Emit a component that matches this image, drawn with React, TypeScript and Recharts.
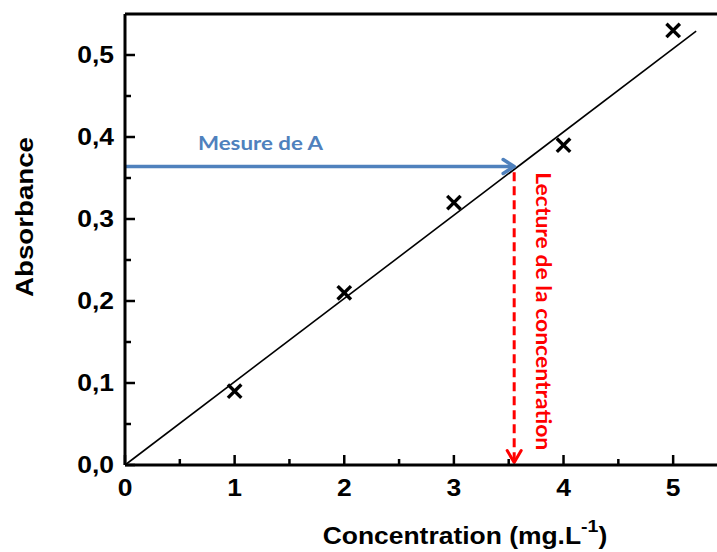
import React from "react";
import {
  ComposedChart,
  Scatter,
  XAxis,
  YAxis,
  ReferenceLine,
} from "recharts";

// mesures étalon
const concentrations = [1, 2, 3, 4, 5];
const absorbances = [0.09, 0.21, 0.32, 0.39, 0.53];

// droite d'étalonnage (début / fin)
const fitX = [0, 5.21];
const fitY = [0, 0.529];

// lecture graphique
const measuredA = 0.364;
const readConc = 3.55;

const xTicks = [0, 0.5, 1, 1.5, 2, 2.5, 3, 3.5, 4, 4.5, 5];
const yTicks = [0, 0.05, 0.1, 0.15, 0.2, 0.25, 0.3, 0.35, 0.4, 0.45, 0.5];

const BLUE = "#4F81BD";
const RED = "#FF0000";
const AXIS_FONT = "'Liberation Sans', Arial, sans-serif";
const NOTE_FONT = "Lato, 'Open Sans', sans-serif";

const points = concentrations.map((c, i) => ({ c, a: absorbances[i] }));

const isMajorX = (v: number) => Math.abs(v - Math.round(v)) < 1e-6;
const isMajorY = (v: number) => Math.round(v * 100) % 10 === 0;

function XTick({ x, y, payload }: any) {
  const major = isMajorX(payload.value);
  return (
    <g>
      <line x1={x} x2={x} y1={y} y2={y - (major ? 10 : 6)} stroke="#000" strokeWidth={2.5} />
      {major && (
        <text
          transform={`translate(${x},${y + 31}) scale(1.15,1)`}
          textAnchor="middle"
          fontFamily={AXIS_FONT}
          fontWeight="bold"
          fontSize={23}
          fill="#000"
        >
          {payload.value}
        </text>
      )}
    </g>
  );
}

function YTick({ x, y, payload }: any) {
  const major = isMajorY(payload.value);
  return (
    <g>
      <line x1={x} x2={x + (major ? 10 : 6)} y1={y} y2={y} stroke="#000" strokeWidth={2.5} />
      {major && (
        <text
          transform={`translate(${x - 11},${y + 8}) scale(1.15,1)`}
          textAnchor="end"
          fontFamily={AXIS_FONT}
          fontWeight="bold"
          fontSize={23}
          fill="#000"
        >
          {payload.value.toFixed(1).replace(".", ",")}
        </text>
      )}
    </g>
  );
}

function Cross({ cx, cy }: any) {
  const s = 5.5;
  return (
    <g stroke="#000" strokeWidth={3.4} strokeLinecap="square">
      <line x1={cx - s} y1={cy - s} x2={cx + s} y2={cy + s} />
      <line x1={cx - s} y1={cy + s} x2={cx + s} y2={cy - s} />
    </g>
  );
}

function MeasureArrow({ x1, y1, x2, y2 }: any) {
  return (
    <g>
      <line x1={x1} y1={y1} x2={x2 - 2} y2={y2} stroke={BLUE} strokeWidth={3.5} />
      <polyline
        points={`${x2 - 11},${y2 - 7} ${x2},${y2} ${x2 - 11},${y2 + 7}`}
        fill="none"
        stroke={BLUE}
        strokeWidth={3.5}
        strokeLinecap="round"
        strokeLinejoin="round"
      />
      <text
        x={x1 + 73}
        y={y1 - 17}
        fontFamily={NOTE_FONT}
        fontWeight="bold"
        fontSize={19}
        fill={BLUE}
        textLength={125}
        lengthAdjust="spacingAndGlyphs"
      >
        Mesure de A
      </text>
    </g>
  );
}

function ReadArrow({ x1, y1, x2, y2 }: any) {
  return (
    <g>
      <line
        x1={x1}
        y1={y1}
        x2={x2}
        y2={y2 - 2}
        stroke={RED}
        strokeWidth={3}
        strokeDasharray="9 5"
      />
      <polyline
        points={`${x2 - 7},${y2 - 12} ${x2},${y2} ${x2 + 7},${y2 - 12}`}
        fill="none"
        stroke={RED}
        strokeWidth={3}
        strokeLinecap="round"
        strokeLinejoin="round"
      />
      <text
        transform={`translate(${x1 + 22},${y1}) rotate(90)`}
        fontFamily={NOTE_FONT}
        fontWeight="bold"
        fontSize={20}
        fill={RED}
        textLength={278}
        lengthAdjust="spacingAndGlyphs"
      >
        Lecture de la concentration
      </text>
    </g>
  );
}

function XTitle({ viewBox }: any) {
  const cx = viewBox.x + 340;
  return (
    <text
      transform={`translate(${cx},${viewBox.y + 79}) scale(1.15,1)`}
      textAnchor="middle"
      fontFamily={AXIS_FONT}
      fontWeight="bold"
      fontSize={23}
      fill="#000"
    >
      Concentration (mg.L
      <tspan fontSize={17} dy={-12}>-1</tspan>
      <tspan dy={12}>)</tspan>
    </text>
  );
}

function YTitle({ viewBox }: any) {
  return (
    <text
      transform={`translate(33,${viewBox.y + 203}) rotate(-90)`}
      textAnchor="middle"
      fontFamily={AXIS_FONT}
      fontWeight="bold"
      fontSize={24}
      fill="#000"
      textLength={160}
      lengthAdjust="spacingAndGlyphs"
    >
      Absorbance
    </text>
  );
}

export default function App() {
  return (
    <div style={{ position: "absolute", left: 0, top: 0, background: "#fff" }}>
      <ComposedChart
        width={717}
        height={552}
        data={points}
        margin={{ top: 14, right: 0, bottom: 0, left: 0 }}
      >
        <XAxis
          type="number"
          dataKey="c"
          domain={[0, 5.4]}
          ticks={xTicks}
          interval={0}
          height={87}
          tickSize={0}
          tickMargin={0}
          tickLine={false}
          tick={<XTick />}
          axisLine={{ stroke: "#000", strokeWidth: 3 }}
          label={<XTitle />}
        />
        <YAxis
          type="number"
          dataKey="a"
          domain={[0, 0.55]}
          ticks={yTicks}
          interval={0}
          width={125}
          tickSize={0}
          tickMargin={0}
          tickLine={false}
          tick={<YTick />}
          axisLine={{ stroke: "#000", strokeWidth: 3 }}
          label={<YTitle />}
        />
        <ReferenceLine y={0.55} stroke="#000" strokeWidth={3} />
        <ReferenceLine
          segment={[
            { x: fitX[0], y: fitY[0] },
            { x: fitX[1], y: fitY[1] },
          ]}
          stroke="#000"
          strokeWidth={1.6}
        />
        <ReferenceLine
          segment={[
            { x: 0, y: measuredA },
            { x: readConc, y: measuredA },
          ]}
          shape={(p: any) => <MeasureArrow {...p} />}
        />
        <ReferenceLine
          segment={[
            { x: readConc, y: 0.357 },
            { x: readConc, y: 0.003 },
          ]}
          shape={(p: any) => <ReadArrow {...p} />}
        />
        <Scatter
          dataKey="a"
          isAnimationActive={false}
          shape={(p: any) => <Cross {...p} />}
        />
      </ComposedChart>
    </div>
  );
}
